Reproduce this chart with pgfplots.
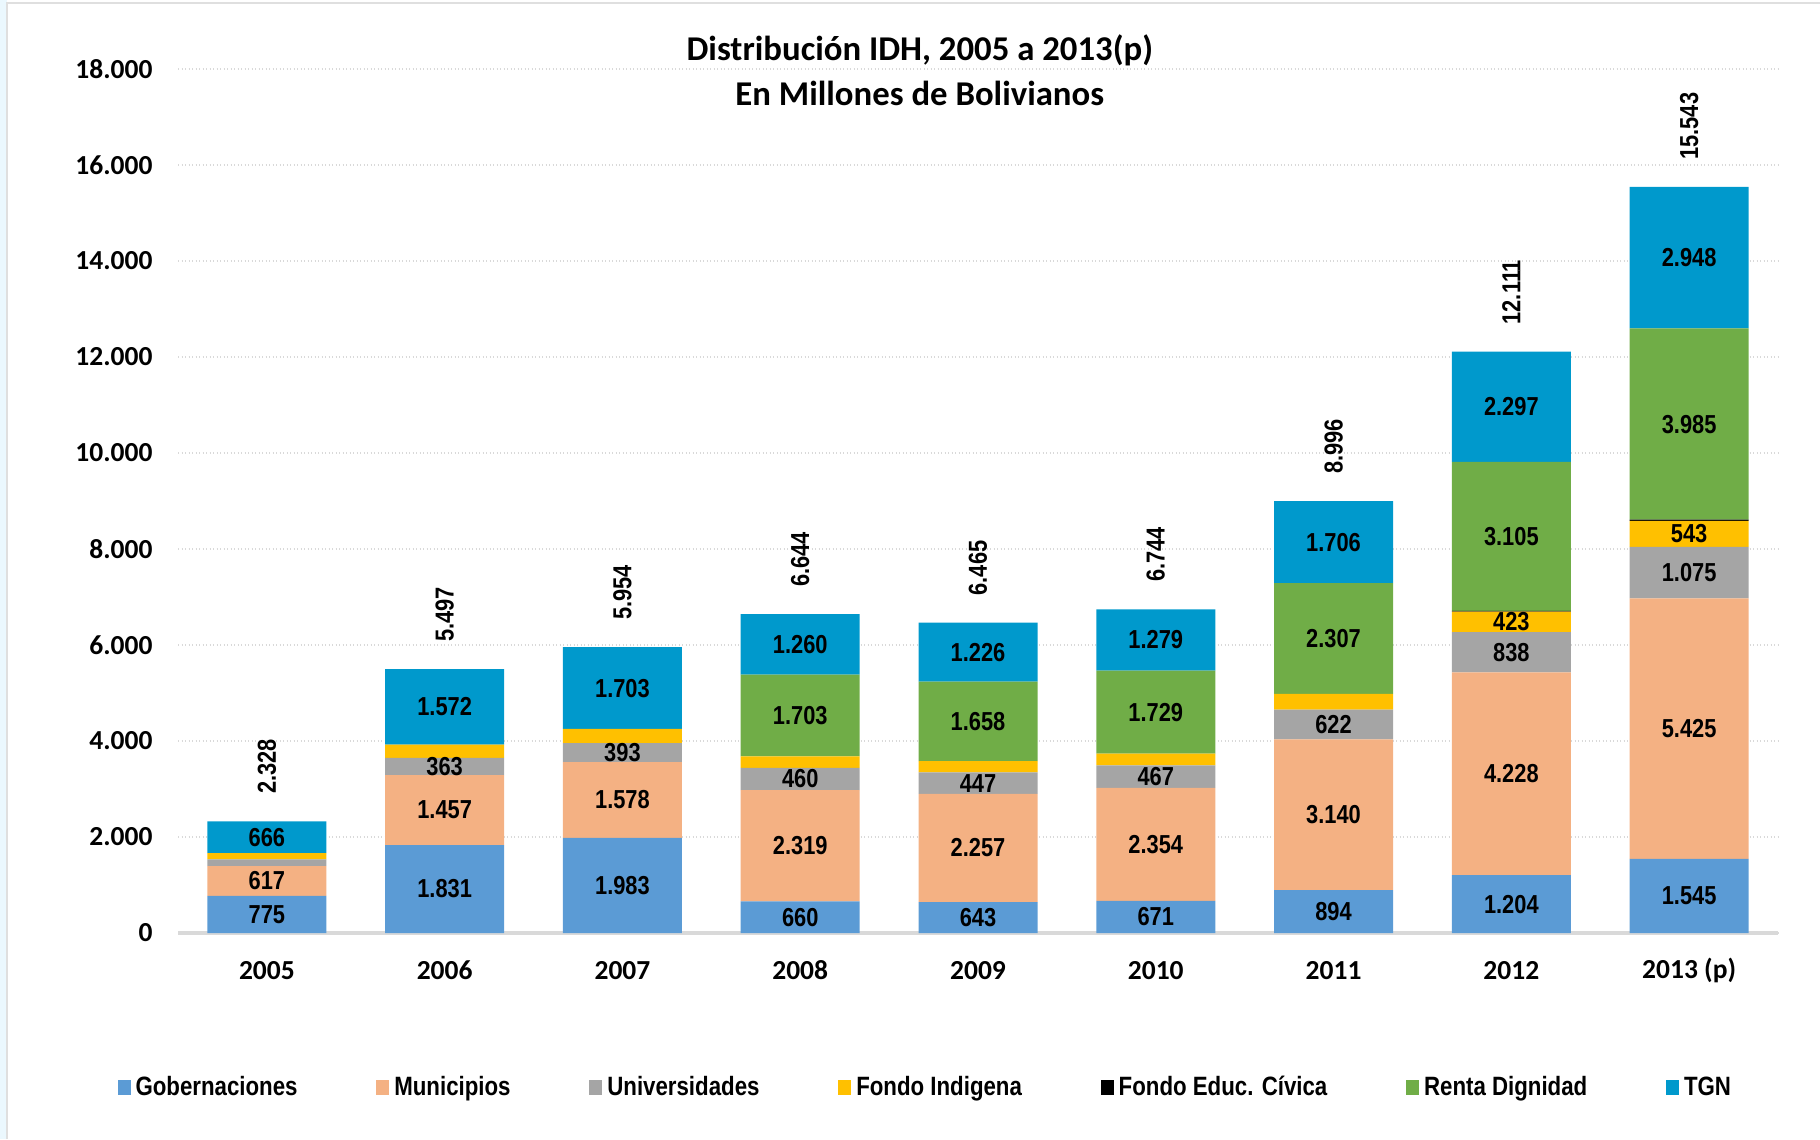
\documentclass[border=0pt]{standalone}
\usepackage{pgfplots}
\pgfplotsset{compat=1.18}
\usepackage{pgfplotstable}
\usepackage{fontspec}
\setmainfont{Liberation Sans}
\newfontfamily\narrowfont{Liberation Sans}[FakeStretch=0.84]
\newfontfamily\calfont{Carlito}
\definecolor{cgob}{HTML}{5B9BD5}
\definecolor{cmun}{HTML}{F4B183}
\definecolor{cuni}{HTML}{A5A5A5}
\definecolor{cfi}{HTML}{FFC000}
\definecolor{cfec}{HTML}{000000}
\definecolor{crd}{HTML}{70AD47}
\definecolor{ctgn}{HTML}{0099CC}
\pgfplotstableread{
x gob mun uni fi fec rd tgn total
0 775 617 140 130 0 0 666 2328
1 1831 1457 363 274 0 0 1572 5497
2 1983 1578 393 297 0 0 1703 5954
3 660 2319 460 242 0 1703 1260 6644
4 643 2257 447 234 0 1658 1226 6465
5 671 2354 467 244 0 1729 1279 6744
6 894 3140 622 327 0 2307 1706 8996
7 1204 4228 838 423 16 3105 2297 12111
8 1545 5425 1075 543 22 3985 2948 15543
}\data
\newcommand\lblfont{\narrowfont\bfseries\fontsize{10.4}{12}\selectfont}
\newcommand\legfont{\narrowfont\bfseries\fontsize{10.6}{12}\selectfont}
\newcommand\tickfont{\calfont\bfseries\fontsize{11}{13}\selectfont}
\newcommand\titlefont{\calfont\bfseries\fontsize{13.9}{16}\selectfont}
\pgfplotsset{
  common/.style={
    scale only axis, width=640pt, height=345.6pt,
    xmin=-0.5, xmax=8.5, ymin=0, ymax=18000, enlargelimits=false,
    at={(71.2pt,82.4pt)}, anchor=south west,
    /pgf/number format/assume math mode=true,
    /pgf/number format/1000 sep={.},
    /pgf/number format/fixed,
    /pgf/number format/precision=0,
  }
}
\begin{document}
\begin{tikzpicture}
\path[use as bounding box] (0,0) rectangle (728pt,455.6pt);
\fill[cyan!8] (0,0) rectangle (2.6pt,455.6pt);
\draw[gray!25, line width=0.8pt] (2.8pt,0) -- (2.8pt,454.4pt) -- (728pt,454.4pt);
\begin{axis}[common, ybar stacked, bar width=47.6pt,
  axis x line=bottom, axis y line=left, axis line style={-},
  x axis line style={draw=gray!30, line width=1.3pt},
  y axis line style={draw=none},
  major tick length=0pt,
  ytick={0,2000,...,18000}, xtick={0,...,8},
  xticklabels={2005,2006,2007,2008,2009,2010,2011,2012,2013 (p)},
  ymajorgrids, grid style={densely dotted, gray!30, line width=0.6pt},
  yticklabel style={font=\tickfont, anchor=east, inner sep=0pt, xshift=-10pt},
  xticklabel style={font=\tickfont, anchor=center, inner sep=0pt, yshift=-15pt},
  scaled y ticks=false,
  legend columns=7,
  legend image code/.code={\fill[#1] (0pt,-3pt) rectangle (5.2pt,3pt);},
  legend style={at={(axis description cs:0.468,-0.179)}, anchor=center, draw=none, fill=none,
    font=\legfont, /tikz/every even column/.append style={column sep=29.5pt}},
  legend cell align=left,
]
\addplot[fill=cgob, draw=none] table[x=x,y=gob]{\data};
\addlegendentry{Gobernaciones}
\addplot[fill=cmun, draw=none] table[x=x,y=mun]{\data};
\addlegendentry{Municipios}
\addplot[fill=cuni, draw=none] table[x=x,y=uni]{\data};
\addlegendentry{Universidades}
\addplot[fill=cfi, draw=none] table[x=x,y=fi]{\data};
\addlegendentry{Fondo Indigena}
\addplot[fill=cfec, draw=none] table[x=x,y=fec]{\data};
\addlegendentry{Fondo Educ. Cívica}
\addplot[fill=crd, draw=none] table[x=x,y=rd]{\data};
\addlegendentry{Renta Dignidad}
\addplot[fill=ctgn, draw=none] table[x=x,y=tgn]{\data};
\addlegendentry{TGN}
\end{axis}
\begin{axis}[common, hide axis, clip=false,
  point meta=explicit,
  nodes near coords={\pgfmathprintnumber{\pgfplotspointmeta}},
  every node near coord/.append style={font=\lblfont, text=black, anchor=center, inner sep=0pt},
]
\addplot[draw=none, mark=none] table[x=x, y expr=\thisrow{gob}/2, meta=gob]{\data};
\addplot[draw=none, mark=none] table[x=x, y expr=\thisrow{gob}+\thisrow{mun}/2, meta=mun]{\data};
\addplot[draw=none, mark=none, restrict x to domain=1:8] table[x=x, y expr=\thisrow{gob}+\thisrow{mun}+\thisrow{uni}/2, meta=uni]{\data};
\addplot[draw=none, mark=none, restrict x to domain=7:8] table[x=x, y expr=\thisrow{gob}+\thisrow{mun}+\thisrow{uni}+\thisrow{fi}/2, meta=fi]{\data};
\addplot[draw=none, mark=none, restrict x to domain=3:8] table[x=x, y expr=\thisrow{gob}+\thisrow{mun}+\thisrow{uni}+\thisrow{fi}+\thisrow{fec}+\thisrow{rd}/2, meta=rd]{\data};
\addplot[draw=none, mark=none] table[x=x, y expr=\thisrow{total}-\thisrow{tgn}/2, meta=tgn]{\data};
\addplot[draw=none, mark=none, every node near coord/.append style={rotate=90, anchor=west}] table[x=x, y expr=\thisrow{total}+560, meta=total]{\data};
\end{axis}
\node[font=\titlefont] at (367.9pt,435.6pt) {Distribución IDH, 2005 a 2013(p)};
\node[font=\titlefont] at (367.9pt,418.4pt) {En Millones de Bolivianos};
\end{tikzpicture}
\end{document}
